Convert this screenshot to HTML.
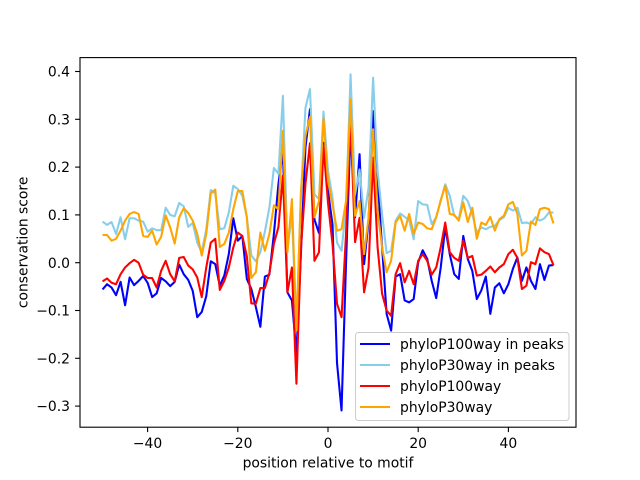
<!DOCTYPE html>
<html>
<head>
<meta charset="utf-8">
<style>
html,body{margin:0;padding:0;background:#fff;}
svg{display:block;}
text{font-family:"DejaVu Sans","Liberation Sans",sans-serif;font-size:13.9px;fill:#000;}
</style>
</head>
<body>
<svg width="640" height="480" viewBox="0 0 640 480" xmlns="http://www.w3.org/2000/svg">
<rect x="0" y="0" width="640" height="480" fill="#fff"/>
<rect x="80" y="57.6" width="496" height="369.6" fill="#fff"/>
<defs><clipPath id="ax"><rect x="80" y="57.6" width="496" height="369.6"/></clipPath></defs>
<g clip-path="url(#ax)">
<g transform="translate(328,262.7) scale(4.50909,-478.1)" fill="none" stroke-linejoin="round">
<polyline vector-effect="non-scaling-stroke" stroke="#0000ff" stroke-width="2.08" points="-50,-0.056 -49,-0.045 -48,-0.052 -47,-0.068 -46,-0.040 -45,-0.089 -44,-0.031 -43,-0.047 -42,-0.038 -41,-0.028 -40,-0.042 -39,-0.072 -38,-0.064 -37,-0.032 -36,-0.039 -35,-0.049 -34,-0.040 -33,-0.004 -32,-0.024 -31,-0.036 -30,-0.059 -29,-0.114 -28,-0.103 -27,-0.070 -26,0.003 -25,-0.003 -24,-0.048 -23,-0.027 -22,0.018 -21,0.093 -20,0.046 -19,0.056 -18,-0.034 -17,-0.055 -16,-0.093 -15,-0.134 -14,-0.029 -13,-0.025 -12,0.060 -11,0.164 -10,0.234 -9,-0.062 -8,-0.079 -7,-0.190 -6,0.020 -5,0.241 -4,0.321 -3,0.090 -2,0.062 -1,0.251 0,0.150 1,0.080 2,-0.210 3,-0.309 4,0.000 5,0.280 6,0.095 7,0.227 8,-0.003 9,0.088 10,0.317 11,0.171 12,0.032 13,-0.107 14,-0.142 15,-0.029 16,-0.024 17,-0.079 18,-0.083 19,-0.076 20,0.001 21,0.026 22,0.008 23,-0.038 24,-0.074 25,-0.010 26,0.074 27,0.018 28,-0.024 29,-0.034 30,0.056 31,0.008 32,-0.017 33,-0.076 34,-0.058 35,-0.029 36,-0.107 37,-0.052 38,-0.043 39,-0.064 40,-0.045 41,-0.013 42,0.011 43,-0.038 44,-0.010 45,-0.038 46,-0.055 47,-0.003 48,-0.036 49,-0.006 50,-0.005"/>
<polyline vector-effect="non-scaling-stroke" stroke="#87ceeb" stroke-width="2.08" points="-50,0.086 -49,0.079 -48,0.085 -47,0.060 -46,0.095 -45,0.049 -44,0.093 -43,0.093 -42,0.088 -41,0.086 -40,0.065 -39,0.072 -38,0.068 -37,0.068 -36,0.115 -35,0.100 -34,0.097 -33,0.125 -32,0.118 -31,0.075 -30,0.083 -29,0.042 -28,0.022 -27,0.070 -26,0.152 -25,0.145 -24,0.070 -23,0.072 -22,0.105 -21,0.161 -20,0.154 -19,0.140 -18,0.095 -17,0.015 -16,0.003 -15,0.022 -14,0.065 -13,0.115 -12,0.198 -11,0.186 -10,0.349 -9,0.030 -8,0.100 -7,-0.135 -6,0.140 -5,0.324 -4,0.363 -3,0.143 -2,0.133 -1,0.316 0,0.192 1,0.136 2,0.042 3,0.025 4,0.115 5,0.394 6,0.143 7,0.195 8,0.094 9,0.157 10,0.387 11,0.192 12,0.101 13,0.020 14,0.025 15,0.088 16,0.103 17,0.096 18,0.089 19,0.049 20,0.129 21,0.122 22,0.121 23,0.081 24,0.095 25,0.129 26,0.164 27,0.140 28,0.098 29,0.091 30,0.140 31,0.129 32,0.102 33,0.063 34,0.074 35,0.070 36,0.075 37,0.077 38,0.089 39,0.095 40,0.115 41,0.109 42,0.115 43,0.083 44,0.084 45,0.081 46,0.095 47,0.088 48,0.093 49,0.105 50,0.105"/>
<polyline vector-effect="non-scaling-stroke" stroke="#ff0000" stroke-width="2.08" points="-50,-0.039 -49,-0.033 -48,-0.042 -47,-0.045 -46,-0.024 -45,-0.010 -44,-0.001 -43,0.006 -42,0.000 -41,-0.025 -40,-0.032 -39,-0.032 -38,-0.052 -37,-0.017 -36,0.004 -35,-0.024 -34,-0.039 -33,0.010 -32,0.012 -31,-0.006 -30,-0.014 -29,-0.031 -28,-0.072 -27,-0.010 -26,0.042 -25,0.050 -24,-0.057 -23,-0.038 -22,-0.010 -21,0.032 -20,0.063 -19,0.056 -18,0.013 -17,-0.085 -16,-0.086 -15,-0.053 -14,-0.053 -13,-0.022 -12,0.040 -11,0.074 -10,0.182 -9,-0.062 -8,-0.010 -7,-0.253 -6,0.032 -5,0.165 -4,0.250 -3,0.004 -2,0.022 -1,0.245 0,0.125 1,0.039 2,-0.086 3,-0.114 4,0.060 5,0.300 6,0.043 7,0.094 8,-0.062 9,-0.010 10,0.220 11,0.032 12,-0.065 13,-0.100 14,-0.111 15,-0.024 16,-0.001 17,-0.041 18,-0.017 19,-0.045 20,0.004 21,0.018 22,0.004 23,-0.025 24,-0.010 25,0.032 26,0.084 27,0.022 28,0.010 29,0.004 30,0.046 31,0.010 32,0.014 33,-0.027 34,-0.025 35,-0.017 36,-0.008 37,-0.020 38,-0.010 39,-0.003 40,0.018 41,0.027 42,0.010 43,-0.055 44,-0.048 45,0.001 46,-0.003 47,0.030 48,0.022 49,0.018 50,-0.005"/>
<polyline vector-effect="non-scaling-stroke" stroke="#ffa500" stroke-width="2.08" points="-50,0.058 -49,0.058 -48,0.046 -47,0.050 -46,0.067 -45,0.088 -44,0.102 -43,0.106 -42,0.102 -41,0.056 -40,0.054 -39,0.067 -38,0.038 -37,0.054 -36,0.099 -35,0.074 -34,0.040 -33,0.095 -32,0.114 -31,0.104 -30,0.088 -29,0.060 -28,0.015 -27,0.060 -26,0.145 -25,0.153 -24,0.033 -23,0.039 -22,0.063 -21,0.112 -20,0.150 -19,0.150 -18,0.095 -17,-0.032 -16,-0.020 -15,0.063 -14,0.025 -13,0.060 -12,0.120 -11,0.112 -10,0.276 -9,0.022 -8,0.133 -7,-0.142 -6,0.150 -5,0.265 -4,0.305 -3,0.095 -2,0.129 -1,0.301 0,0.171 1,0.122 2,0.067 3,0.070 4,0.129 5,0.342 6,0.098 7,0.129 8,0.018 9,0.094 10,0.279 11,0.108 12,0.032 13,-0.020 14,0.004 15,0.084 16,0.098 17,0.067 18,0.102 19,0.060 20,0.084 21,0.081 22,0.072 23,0.070 24,0.095 25,0.131 26,0.161 27,0.102 28,0.100 29,0.088 30,0.126 31,0.085 32,0.115 33,0.050 34,0.084 35,0.079 36,0.096 37,0.067 38,0.091 39,0.098 40,0.122 41,0.127 42,0.102 43,0.015 44,0.025 45,0.086 46,0.079 47,0.112 48,0.115 49,0.112 50,0.082"/>
</g>
</g>
<!-- spines -->
<rect x="80" y="57.6" width="496" height="369.6" fill="none" stroke="#000" stroke-width="1.1"/>
<!-- x ticks -->
<g stroke="#000" stroke-width="1.1">
<line x1="147.6" y1="427.2" x2="147.6" y2="432.1"/>
<line x1="237.8" y1="427.2" x2="237.8" y2="432.1"/>
<line x1="328" y1="427.2" x2="328" y2="432.1"/>
<line x1="418.2" y1="427.2" x2="418.2" y2="432.1"/>
<line x1="508.4" y1="427.2" x2="508.4" y2="432.1"/>
<line x1="75.1" y1="406.1" x2="80" y2="406.1"/>
<line x1="75.1" y1="358.3" x2="80" y2="358.3"/>
<line x1="75.1" y1="310.5" x2="80" y2="310.5"/>
<line x1="75.1" y1="262.7" x2="80" y2="262.7"/>
<line x1="75.1" y1="214.9" x2="80" y2="214.9"/>
<line x1="75.1" y1="167.1" x2="80" y2="167.1"/>
<line x1="75.1" y1="119.3" x2="80" y2="119.3"/>
<line x1="75.1" y1="71.5" x2="80" y2="71.5"/>
</g>
<g text-anchor="middle">
<text x="147.6" y="448">−40</text>
<text x="237.8" y="448">−20</text>
<text x="328" y="448">0</text>
<text x="418.2" y="448">20</text>
<text x="508.4" y="448">40</text>
</g>
<g text-anchor="end">
<text x="70" y="411.2">−0.3</text>
<text x="70" y="363.4">−0.2</text>
<text x="70" y="315.6">−0.1</text>
<text x="70" y="267.8">0.0</text>
<text x="70" y="220">0.1</text>
<text x="70" y="172.2">0.2</text>
<text x="70" y="124.4">0.3</text>
<text x="70" y="76.6">0.4</text>
</g>
<text x="328" y="467.5" text-anchor="middle">position relative to motif</text>
<text transform="translate(27.5,242.4) rotate(-90)" text-anchor="middle">conservation score</text>
<!-- legend -->
<rect x="355.5" y="332.5" width="213.5" height="88" rx="3" ry="3" fill="#fff" fill-opacity="0.8" stroke="#cccccc" stroke-width="1"/>
<g stroke-width="2.08">
<line x1="360" y1="344" x2="390" y2="344" stroke="#0000ff"/>
<line x1="360" y1="365" x2="390" y2="365" stroke="#87ceeb"/>
<line x1="360" y1="386" x2="390" y2="386" stroke="#ff0000"/>
<line x1="360" y1="407" x2="390" y2="407" stroke="#ffa500"/>
</g>
<text x="400" y="349">phyloP100way in peaks</text>
<text x="400" y="370">phyloP30way in peaks</text>
<text x="400" y="391">phyloP100way</text>
<text x="400" y="412">phyloP30way</text>
</svg>
</body>
</html>
